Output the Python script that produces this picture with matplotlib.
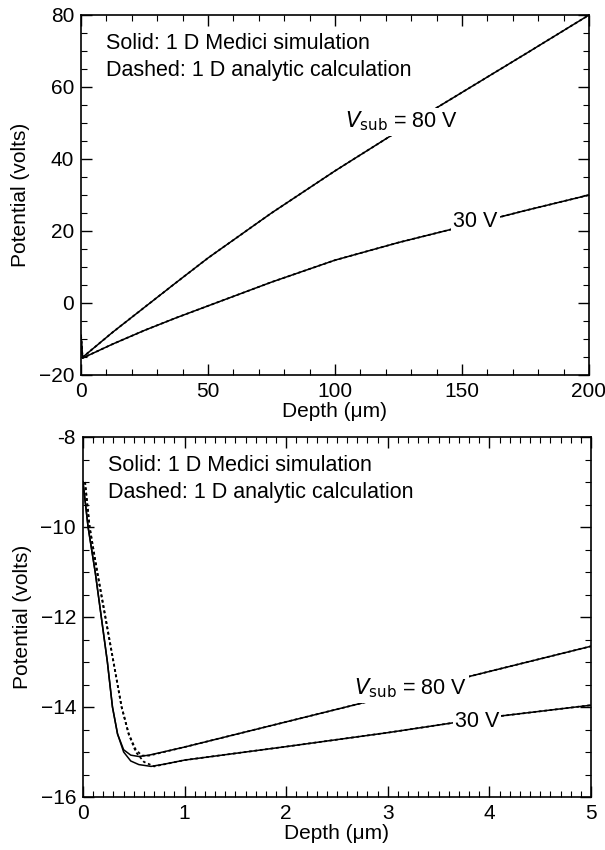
import numpy as np
import matplotlib
matplotlib.use("Agg")
import matplotlib.pyplot as plt
from matplotlib.ticker import MultipleLocator, FixedLocator, FixedFormatter

plt.rcParams['font.family'] = ['Liberation Sans', 'DejaVu Sans']
plt.rcParams['font.size'] = 15

# top panel: full 200 um depth (simulation and analytic overlap)
depth_top = [0, 0.6, 12.5, 25, 37.5, 50, 75, 100, 125, 150, 175, 200]
v80_top = [-9.0, -15.1, -8.1, -1.2, 5.7, 12.5, 25.0, 36.7, 47.8, 58.5, 69.2, 80.0]
v30_top = [-9.0, -15.3, -11.4, -7.6, -4.1, -0.8, 5.8, 11.9, 16.8, 21.2, 25.7, 30.0]

# bottom panel: first 5 um
depth_sim80 = [0.0, 0.05, 0.12, 0.18, 0.24, 0.29, 0.34, 0.40, 0.47, 0.55, 0.65, 1, 2, 3, 4, 5]
pot_sim80 = [-9.0, -10.0, -11.0, -12.0, -13.0, -14.0, -14.6, -14.95, -15.07, -15.1, -15.07,
             -14.89, -14.33, -13.77, -13.21, -12.65]
depth_sim30 = [0.0, 0.05, 0.12, 0.18, 0.24, 0.29, 0.34, 0.40, 0.47, 0.55, 0.67, 0.8, 1, 2, 3, 4, 5]
pot_sim30 = [-9.0, -10.0, -11.0, -12.0, -13.0, -14.0, -14.6, -15.0, -15.2, -15.28, -15.32,
             -15.27, -15.18, -14.88, -14.57, -14.23, -13.96]
depth_ana80 = [0.02, 0.065, 0.14, 0.22, 0.30, 0.38, 0.45, 0.52, 0.58, 0.65, 1, 2, 3, 4, 5]
pot_ana80 = [-9.0, -10.0, -11.0, -12.0, -13.0, -14.0, -14.6, -14.95, -15.08, -15.08,
             -14.89, -14.33, -13.77, -13.21, -12.65]
depth_ana30 = [0.02, 0.065, 0.14, 0.22, 0.30, 0.38, 0.45, 0.52, 0.60, 0.70, 1, 2, 3, 4, 5]
pot_ana30 = [-9.0, -10.0, -11.0, -12.0, -13.0, -14.0, -14.6, -15.0, -15.22, -15.32,
             -15.18, -14.88, -14.57, -14.23, -13.96]

top_yticks = [-20, 0, 20, 40, 60, 80]
top_ylabels = ["\u221220", "0", "20", "40", "60", "80"]
bot_yticks = [-16, -14, -12, -10, -8]
bot_ylabels = ["\u221216", "\u221214", "\u221212", "\u221210", "-8"]

fig = plt.figure(figsize=(6.05, 8.5), dpi=100)
ax1 = fig.add_axes([81 / 605, 1 - 375 / 850, 508 / 605, 360 / 850])
ax2 = fig.add_axes([83 / 605, 1 - 797 / 850, 508 / 605, 360 / 850])

solid = dict(color="black", lw=1.1)
dashed = dict(color="black", lw=1.3, ls=(0, (1.5, 1.5)))

ax1.plot(depth_top, v80_top, **solid)
ax1.plot(depth_top, v80_top, **dashed)
ax1.plot(depth_top, v30_top, **solid)
ax1.plot(depth_top, v30_top, **dashed)

ax2.plot(depth_sim80, pot_sim80, **solid)
ax2.plot(depth_sim30, pot_sim30, **solid)
ax2.plot(depth_ana80, pot_ana80, **dashed)
ax2.plot(depth_ana30, pot_ana30, **dashed)

ax1.set_xlim(0, 200)
ax1.set_ylim(-20, 80)
ax1.xaxis.set_major_locator(MultipleLocator(50))
ax1.xaxis.set_minor_locator(MultipleLocator(10))
ax1.yaxis.set_major_locator(FixedLocator(top_yticks))
ax1.yaxis.set_major_formatter(FixedFormatter(top_ylabels))
ax1.yaxis.set_minor_locator(MultipleLocator(5))

ax2.set_xlim(0, 5)
ax2.set_ylim(-16, -8)
ax2.xaxis.set_major_locator(MultipleLocator(1))
ax2.xaxis.set_minor_locator(MultipleLocator(0.1))
ax2.yaxis.set_major_locator(FixedLocator(bot_yticks))
ax2.yaxis.set_major_formatter(FixedFormatter(bot_ylabels))
ax2.yaxis.set_minor_locator(MultipleLocator(0.5))

box = dict(facecolor="white", edgecolor="none", pad=1.5)
for ax in (ax1, ax2):
    ax.tick_params(which="both", direction="in", top=True, right=True, labelsize=15)
    ax.tick_params(which="major", length=8, width=1, pad=5)
    ax.tick_params(which="minor", length=4, width=0.8)
    ax.set_xlabel("Depth (\u03bcm)", fontsize=15, labelpad=1)
    ax.set_ylabel("Potential (volts)", fontsize=15, labelpad=6)
    ax.text(0.05, 0.92, "Solid: 1 D Medici simulation", transform=ax.transAxes,
            va="center", fontsize=15.5)
    ax.text(0.05, 0.845, "Dashed: 1 D analytic calculation", transform=ax.transAxes,
            va="center", fontsize=15.5)
    for s in ax.spines.values():
        s.set_linewidth(1.2)

ax1.text(104, 50.4, "$V_{\\rm sub}$ = 80 V", va="center", ha="left", fontsize=15.5, bbox=box)
ax1.text(146.5, 22.6, "30 V", va="center", ha="left", fontsize=15.5, bbox=box)
ax2.text(2.67, -13.59, "$V_{\\rm sub}$ = 80 V", va="center", ha="left", fontsize=15.5, bbox=box)
ax2.text(3.66, -14.33, "30 V", va="center", ha="left", fontsize=15.5, bbox=box)

fig.savefig("out.png", dpi=100)
